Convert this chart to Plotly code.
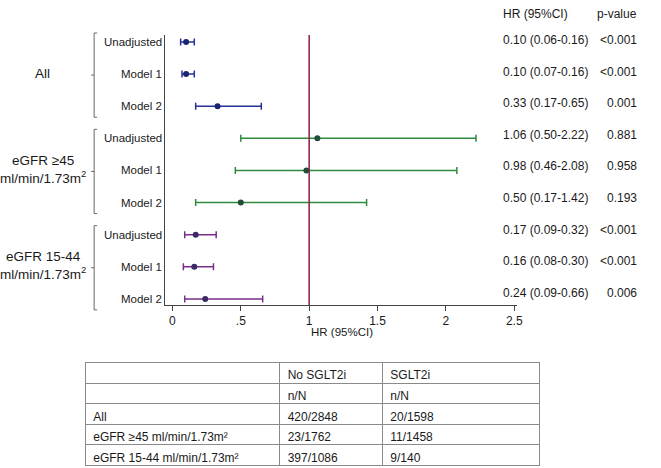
import plotly.graph_objects as go

# ---------------- data ----------------
groups = ["All", "eGFR ≥45<br>ml/min/1.73m<sup>2</sup>", "eGFR 15-44<br>ml/min/1.73m<sup>2</sup>"]
models = ["Unadjusted", "Model 1", "Model 2"]
hr_all = [0.10, 0.10, 0.33]
lo_all = [0.06, 0.07, 0.17]
hi_all = [0.16, 0.16, 0.65]
hr_ge45 = [1.06, 0.98, 0.50]
lo_ge45 = [0.50, 0.46, 0.17]
hi_ge45 = [2.22, 2.08, 1.42]
hr_1544 = [0.17, 0.16, 0.24]
lo_1544 = [0.09, 0.08, 0.09]
hi_1544 = [0.32, 0.30, 0.66]
p_all = ["<0.001", "<0.001", "0.001"]
p_ge45 = ["0.881", "0.958", "0.193"]
p_1544 = ["<0.001", "<0.001", "0.006"]
xtick_vals = [0, 0.5, 1, 1.5, 2, 2.5]
xtick_text = ["0", ".5", "1", "1.5", "2", "2.5"]

tbl_header = [" ", "No SGLT2i", "SGLT2i"]
tbl_col1 = [" ", "All", "eGFR ≥45 ml/min/1.73m²", "eGFR 15-44 ml/min/1.73m²"]
tbl_col2 = ["n/N", "420/2848", "23/1762", "397/1086"]
tbl_col3 = ["n/N", "20/1598", "11/1458", "9/140"]

# ---------------- layout geometry ----------------
W, H = 661, 468
FONT = "Liberation Sans, Arial, sans-serif"
TXT = "#1a1a1a"

def px(x):
    return x / W

def py(y):
    return 1 - y / H

plot_left, plot_right = 167, 522
plot_top, plot_bottom = 35, 305
y_range_top, y_range_bottom = -0.218, 8.19

def row_to_px(r):
    return plot_top + (r - y_range_top) / (y_range_bottom - y_range_top) * (plot_bottom - plot_top)

series = [
    (hr_all, lo_all, hi_all, p_all, "#27309a", "#1c2470"),
    (hr_ge45, lo_ge45, hi_ge45, p_ge45, "#2f8a3c", "#1f4f3c"),
    (hr_1544, lo_1544, hi_1544, p_1544, "#7b2f8c", "#3b2a66"),
]

fig = go.Figure()
annotations = []
shapes = []

for g, (hr, lo, hi, pv, lc, mc) in enumerate(series):
    rows = [g * 3 + i for i in range(3)]
    fig.add_trace(go.Scatter(
        x=hr, y=rows, mode="markers",
        marker=dict(size=6, color=mc),
        error_x=dict(type="data", symmetric=False,
                     array=[h - m for h, m in zip(hi, hr)],
                     arrayminus=[m - l for m, l in zip(hr, lo)],
                     color=lc, thickness=1.5, width=3.5),
        showlegend=False, hoverinfo="skip",
    ))
    for i, r in enumerate(rows):
        annotations.append(dict(text=models[i], x=px(165), y=r, xref="paper", yref="y",
                                xanchor="right", yanchor="middle", showarrow=False,
                                font=dict(size=11.5, color=TXT, family=FONT)))
        ty = 40 + 31.6 * r
        annotations.append(dict(text=f"{hr[i]:.2f} ({lo[i]:.2f}-{hi[i]:.2f})", x=px(506), y=py(ty),
                                xref="paper", yref="paper", xanchor="left", yanchor="middle",
                                showarrow=False, font=dict(size=12, color=TXT, family=FONT)))
        annotations.append(dict(text=pv[i], x=px(645), y=py(ty), xref="paper", yref="paper",
                                xanchor="right", yanchor="middle", showarrow=False,
                                font=dict(size=12, color=TXT, family=FONT)))
    # group label
    mid = row_to_px(g * 3 + 1)
    annotations.append(dict(text=groups[g], x=px(43), y=py(mid - 1), xref="paper", yref="paper",
                            xanchor="center", yanchor="middle", showarrow=False,
                            font=dict(size=13.5, color=TXT, family=FONT)))
    # bracket
    top = row_to_px(g * 3) - 9
    bot = row_to_px(g * 3 + 2) + 11
    bx = 95
    bc = "#666666"
    shapes += [
        dict(type="line", xref="paper", yref="paper", x0=px(bx), x1=px(bx), y0=py(top), y1=py(bot),
             line=dict(color=bc, width=1)),
        dict(type="line", xref="paper", yref="paper", x0=px(bx), x1=px(bx + 3), y0=py(top), y1=py(top),
             line=dict(color=bc, width=1)),
        dict(type="line", xref="paper", yref="paper", x0=px(bx), x1=px(bx + 3), y0=py(bot), y1=py(bot),
             line=dict(color=bc, width=1)),
        dict(type="line", xref="paper", yref="paper", x0=px(bx - 3), x1=px(bx), y0=py((top + bot) / 2),
             y1=py((top + bot) / 2), line=dict(color=bc, width=1)),
    ]

# reference line at HR = 1
shapes.append(dict(type="line", xref="x", yref="paper", x0=1, x1=1, y0=py(plot_bottom), y1=py(plot_top),
                   line=dict(color="#8e1b45", width=1.5)))

# headers
annotations.append(dict(text="HR (95%CI)", x=px(506), y=py(14), xref="paper", yref="paper",
                        xanchor="left", yanchor="middle", showarrow=False,
                        font=dict(size=12, color=TXT, family=FONT)))
annotations.append(dict(text="p-value", x=px(645), y=py(14), xref="paper", yref="paper",
                        xanchor="right", yanchor="middle", showarrow=False,
                        font=dict(size=12, color=TXT, family=FONT)))
# x-axis title
annotations.append(dict(text="HR (95%CI)", x=px(345), y=py(332), xref="paper", yref="paper",
                        xanchor="center", yanchor="middle", showarrow=False,
                        font=dict(size=11.5, color=TXT, family=FONT)))

# table
fig.add_trace(go.Table(
    domain=dict(x=[px(86), px(545)], y=[0, py(362)]),
    columnwidth=[197, 104, 159],
    header=dict(values=tbl_header, height=21, align="left",
                fill_color="white", line=dict(color="#8a8a8a", width=1),
                font=dict(size=12, color=TXT, family=FONT)),
    cells=dict(values=[tbl_col1, tbl_col2, tbl_col3], height=20.5, align="left",
               fill_color="white", line=dict(color="#8a8a8a", width=1),
               font=dict(size=12, color=TXT, family=FONT)),
))

fig.update_layout(
    width=W, height=H,
    margin=dict(l=0, r=0, t=0, b=0),
    paper_bgcolor="white", plot_bgcolor="white",
    font=dict(family=FONT, color=TXT),
    xaxis=dict(domain=[px(plot_left), px(plot_right)],
               range=[(plot_left - 174) / 138, (plot_right - 174) / 138],
               tickvals=xtick_vals, ticktext=xtick_text,
               showgrid=False, zeroline=False, showline=True, linecolor="#444444", linewidth=1,
               ticks="outside", ticklen=5, tickcolor="#444444",
               tickfont=dict(size=12, color=TXT, family=FONT)),
    yaxis=dict(domain=[py(plot_bottom), py(plot_top)],
               range=[y_range_bottom, y_range_top],
               showticklabels=False, showgrid=False, zeroline=False,
               showline=True, linecolor="#444444", linewidth=1, ticks=""),
    annotations=annotations,
    shapes=shapes,
)

fig.write_html("out.html", config={"displayModeBar": False},
               post_script="document.body.style.margin='0';document.body.style.overflow='hidden';")
